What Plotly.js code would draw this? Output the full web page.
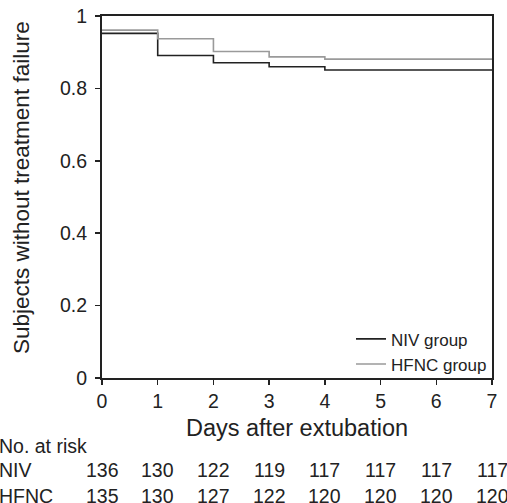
<!DOCTYPE html>
<html><head><meta charset="utf-8">
<script src="https://cdn.plot.ly/plotly-3.0.1.min.js"></script>
<style>body{margin:0;padding:0;background:#fff}#chart{width:507px;height:503px}</style>
</head><body><div id="chart"></div>
<script>
const days = [0, 1, 2, 3, 4, 5, 6, 7];
const nivSurvival = [0.952, 0.891, 0.871, 0.860, 0.851, 0.851, 0.851, 0.851];
const hfncSurvival = [0.961, 0.937, 0.902, 0.887, 0.881, 0.881, 0.881, 0.881];
const nivAtRisk = [136, 130, 122, 119, 117, 117, 117, 117];
const hfncAtRisk = [135, 130, 127, 122, 120, 120, 120, 120];
const yTicks = [0, 0.2, 0.4, 0.6, 0.8, 1];
const yTickLabels = ['0', '0.2', '0.4', '0.6', '0.8', '1'];

const FONT = 'Liberation Sans, Arial, sans-serif';
const traces = [
  {x: days, y: nivSurvival, name: 'NIV group', type: 'scatter', mode: 'lines',
   line: {shape: 'hv', color: '#222222', width: 1.6}},
  {x: days, y: hfncSurvival, name: 'HFNC group', type: 'scatter', mode: 'lines',
   line: {shape: 'hv', color: '#9a9a9a', width: 1.6}}
];

const annotations = [];
const rowY = {head: -0.188, niv: -0.254, hfnc: -0.325};
const TF = {family: FONT, size: 19.5, color: '#222'};
annotations.push({xref: 'paper', yref: 'paper', x: -0.205, y: 0.525, xanchor: 'center', yanchor: 'middle',
  textangle: -90, text: 'Subjects without treatment failure', showarrow: false,
  font: {family: FONT, size: 22.5, color: '#222'}});
annotations.push({xref: 'paper', yref: 'paper', x: -0.268, y: rowY.head, xanchor: 'left', yanchor: 'middle',
  text: 'No. at risk', showarrow: false, font: TF});
annotations.push({xref: 'paper', yref: 'paper', x: -0.268, y: rowY.niv, xanchor: 'left', yanchor: 'middle',
  text: 'NIV', showarrow: false, font: TF});
annotations.push({xref: 'paper', yref: 'paper', x: -0.268, y: rowY.hfnc, xanchor: 'left', yanchor: 'middle',
  text: 'HFNC', showarrow: false, font: TF});
days.forEach((d, i) => {
  annotations.push({xref: 'x', yref: 'paper', x: d, y: rowY.niv, xanchor: 'center', yanchor: 'middle',
    text: String(nivAtRisk[i]), showarrow: false, font: TF});
  annotations.push({xref: 'x', yref: 'paper', x: d, y: rowY.hfnc, xanchor: 'center', yanchor: 'middle',
    text: String(hfncAtRisk[i]), showarrow: false, font: TF});
});

const layout = {
  width: 507, height: 503,
  margin: {l: 102, r: 15, t: 16, b: 125},
  paper_bgcolor: '#fff', plot_bgcolor: '#fff',
  font: {family: FONT, color: '#222'},
  showlegend: true,
  legend: {x: 1.0, y: -0.012, xanchor: 'right', yanchor: 'bottom', bgcolor: 'rgba(0,0,0,0)',
    font: {family: FONT, size: 17, color: '#222'}, tracegroupgap: 0},
  xaxis: {range: [0, 7], tickvals: days, ticktext: days.map(String), showgrid: false, zeroline: false,
    showline: true, linecolor: '#222', linewidth: 2, mirror: true,
    ticks: 'outside', ticklen: 5, tickwidth: 1.5, tickcolor: '#222',
    tickfont: {family: FONT, size: 19.5, color: '#222'},
    title: {text: 'Days after extubation', font: {family: FONT, size: 23.5, color: '#222'}, standoff: 8}},
  yaxis: {range: [0, 1], tickvals: yTicks, ticktext: yTickLabels, showgrid: false, zeroline: false,
    showline: true, linecolor: '#222', linewidth: 2, mirror: true,
    ticks: 'outside', ticklen: 5, tickwidth: 1.5, tickcolor: '#222', ticklabelstandoff: 4,
    tickfont: {family: FONT, size: 19.5, color: '#222'}},
  annotations: annotations
};
Plotly.newPlot('chart', traces, layout, {displayModeBar: false, staticPlot: true});
</script></body></html>
